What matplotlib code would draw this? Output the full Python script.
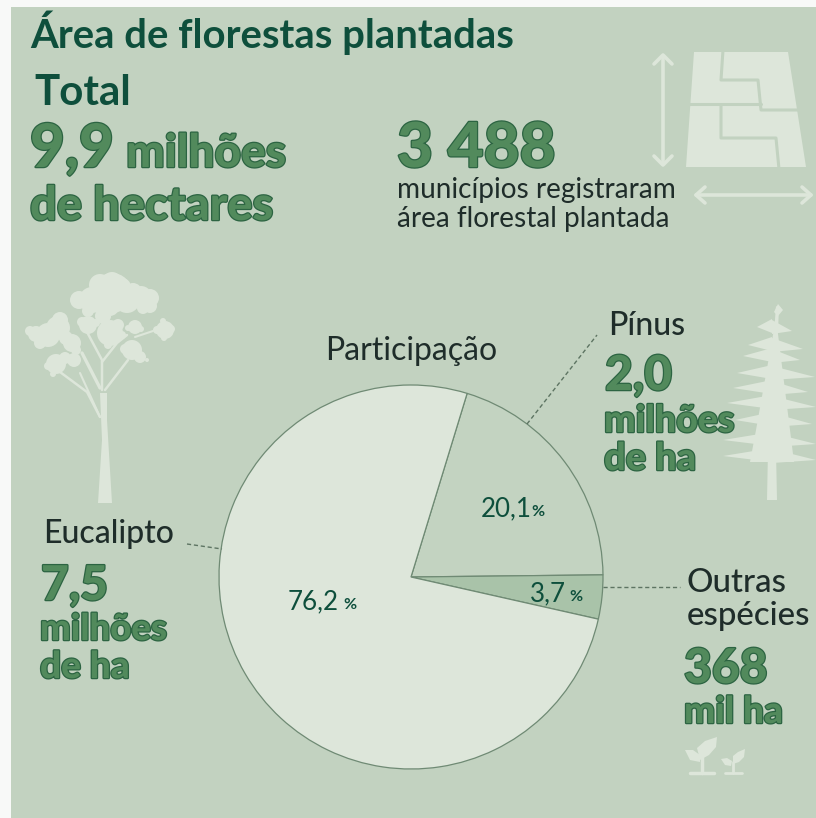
import matplotlib
matplotlib.use('Agg')
import matplotlib.pyplot as plt
import matplotlib.patheffects as pe
from matplotlib.patches import Polygon, Circle, Rectangle

# data
especies = ['Pínus', 'Outras espécies', 'Eucalipto']
participacao = [20.1, 3.7, 76.2]
rotulos = ['20,1', '3,7', '76,2']
fatia_cores = ['#c3d3c1', '#a9c3a9', '#dde6da']

BG = '#c2d2c0'
LIGHT = '#dde6da'
DARK = '#0e4f3c'
TXT = '#1f2d2a'
FILL = '#528a5c'
EDGE = '#2c6442'
FONT = 'Lato'

fig = plt.figure(figsize=(8.16, 8.18), dpi=100, facecolor='#f8f9f8')
ax = fig.add_axes([0, 0, 1, 1])


def Y(y):
    return 818 - y


def txt(x, y, s, size, color=TXT, weight='normal', **kw):
    # size is given in pixels, y is from the top
    return ax.text(x, Y(y), s, fontsize=size*0.72, color=color, fontweight=weight,
                   family=FONT, va='baseline', **kw)


def big(x, y, s, size):
    t = txt(x, y, s, size, color=FILL, weight='black')
    t.set_path_effects([pe.withStroke(linewidth=1.8, foreground=EDGE)])
    return t


def poly(pts, color=LIGHT, z=1):
    ax.add_patch(Polygon([(a, Y(b)) for a, b in pts], closed=True, fc=color, ec='none', zorder=z))


def line(pts, color=LIGHT, lw=2, z=1, **kw):
    ax.plot([p[0] for p in pts], [Y(p[1]) for p in pts], color=color, lw=lw, zorder=z,
            solid_capstyle='round', **kw)


def blobs(items):
    for a, b, r in items:
        ax.add_patch(Circle((a, Y(b)), r, fc=LIGHT, ec='none', zorder=1))


# pie
ax.pie(participacao, colors=fatia_cores, startangle=73, counterclock=False,
       center=(411, Y(577)), radius=192, frame=True,
       wedgeprops=dict(edgecolor='#6f8a74', linewidth=0.9, zorder=3))
ax.set_xlim(0, 816)
ax.set_ylim(0, 818)
ax.set_aspect('auto')
ax.axis('off')
ax.add_patch(Rectangle((11, 0), 805, 811, fc=BG, ec='none', zorder=0))

# field icon
poly([(694, 52), (788, 52), (806, 167), (686, 167)])
line([(723, 50), (721, 80), (758, 80), (761, 110), (798, 110)], color=BG, lw=2.2, z=2)
line([(690, 104), (761, 104)], color=BG, lw=2.2, z=2)
line([(721, 105), (721, 138), (776, 138), (779, 169)], color=BG, lw=2.2, z=2)
line([(663, 56), (663, 164)], lw=2.6)
line([(654, 64), (663, 55), (672, 64)], lw=2.6)
line([(654, 156), (663, 165), (672, 156)], lw=2.6)
line([(696, 195), (811, 195)], lw=2.6)
line([(705, 187), (696, 195), (705, 203)], lw=2.6)
line([(802, 187), (811, 195), (802, 203)], lw=2.6)

# eucalyptus
poly([(98, 503), (112, 503), (107, 420), (107, 393), (100, 393), (102, 440)])
line([(100, 417), (87, 392), (60, 372)], lw=1.8)
line([(100, 417), (80, 373)], lw=1.5)
line([(100, 388), (82, 353)], lw=2.4)
line([(102, 390), (102, 360), (87, 332)], lw=1.8)
line([(102, 362), (117, 343), (127, 335)], lw=1.8)
line([(105, 390), (128, 360)], lw=1.8)
line([(135, 337), (153, 331)], lw=1.5)
blobs([(112, 293, 20), (100, 285, 11), (112, 282, 10), (122, 287, 9), (92, 300, 13), (79, 300, 9),
       (127, 300, 13), (133, 292, 9), (141, 297, 11), (150, 298, 9), (150, 306, 7), (143, 308, 6),
       (110, 307, 9), (88, 311, 6), (103, 316, 8),
       (60, 320, 8), (58, 328, 12), (48, 335, 12), (36, 334, 8), (30, 331, 5), (40, 343, 6), (66, 338, 7),
       (72, 343, 9), (76, 350, 5),
       (56, 364, 10), (65, 358, 6), (48, 366, 4), (53, 374, 3), (74, 360, 7),
       (88, 325, 9), (82, 322, 5), (96, 323, 4),
       (110, 333, 13), (118, 325, 6), (122, 335, 4), (108, 345, 4),
       (135, 327, 7), (128, 328, 3), (141, 329, 3),
       (132, 350, 10), (125, 349, 5), (140, 357, 6), (147, 360, 2),
       (165, 330, 9), (157, 330, 4), (171, 329, 4), (164, 338, 3), (163, 321, 3)])

# pine
poly([(767, 500), (777, 500), (775, 400), (779, 308), (776, 306), (769, 400)])
poly([(776, 318), (756, 430), (750, 462), (794, 462), (790, 430)])
poly([(774, 312), (778, 304), (783, 310), (778, 316)])
tiers = [(327, 757, 792), (345, 748, 803), (356, 743, 800), (373, 737, 815), (388, 733, 808),
        (403, 727, 816), (420, 735, 812), (440, 723, 816), (456, 723, 816)]
for ty, le, ri in tiers:
    poly([(772, ty - 8), (le, ty), (772, ty + 6)])
    poly([(772, ty - 7), (ri, ty + 4), (772, ty + 7)])

# sprouts
line([(690, 773), (714, 773)], lw=2.5)
line([(702, 773), (702, 755)], lw=2.5)
poly([(700, 760), (697, 748), (705, 741), (717, 737), (716, 747), (709, 755)])
poly([(700, 762), (690, 760), (685, 750), (693, 750), (700, 755)])
line([(725, 773), (742, 773)], lw=2)
line([(733, 773), (733, 762)], lw=2)
poly([(733, 764), (733, 756), (738, 752), (745, 749), (744, 757), (739, 762)])
poly([(731, 766), (725, 765), (721, 759), (727, 758), (732, 761)])

# leaders
line([(527, 424), (597, 335)], color='#5d7462', lw=1, z=4, linestyle=(0, (3, 2)))
line([(187, 544), (222, 549)], color='#5d7462', lw=1, z=4, linestyle=(0, (3, 2)))
line([(603, 587), (680, 587)], color='#5d7462', lw=1, z=4, linestyle=(0, (3, 2)))

# header
txt(30, 48, 'Área de florestas plantadas', 40, color=DARK, weight='bold')
txt(34, 105, 'Total', 42, color=DARK, weight='bold')
big(30, 167, '9,9', 60)
big(126, 167, 'milhões', 46)
big(30, 220, 'de hectares', 47)
big(397, 167, '3 488', 62)
txt(397, 198, 'municípios registraram', 28)
txt(397, 227, 'área florestal plantada', 28)
txt(325, 360, 'Participação', 32)

# side labels
txt(608, 335, especies[0], 32, weight='medium')
big(605, 390, '2,0', 48)
big(604, 432, 'milhões', 37.5)
big(604, 470, 'de ha', 38)
txt(43, 543, especies[2], 32, weight='medium')
big(41, 600, '7,5', 48)
big(40, 640, 'milhões', 36.5)
big(40, 678, 'de ha', 37)
txt(687, 592, 'Outras', 33, weight='medium')
txt(687, 625, 'espécies', 33, weight='medium')
big(684, 683, '368', 48)
big(684, 723, 'mil ha', 37)

# pie labels
for (x, y, x2), r in zip([(481, 516, 531), (530, 601, 569), (288, 609, 343)], rotulos):
    txt(x, y, r, 26, color=DARK)
    txt(x2, y, '%', 16, color=DARK, weight='bold')

fig.savefig('out.png', dpi=100, facecolor=fig.get_facecolor())
